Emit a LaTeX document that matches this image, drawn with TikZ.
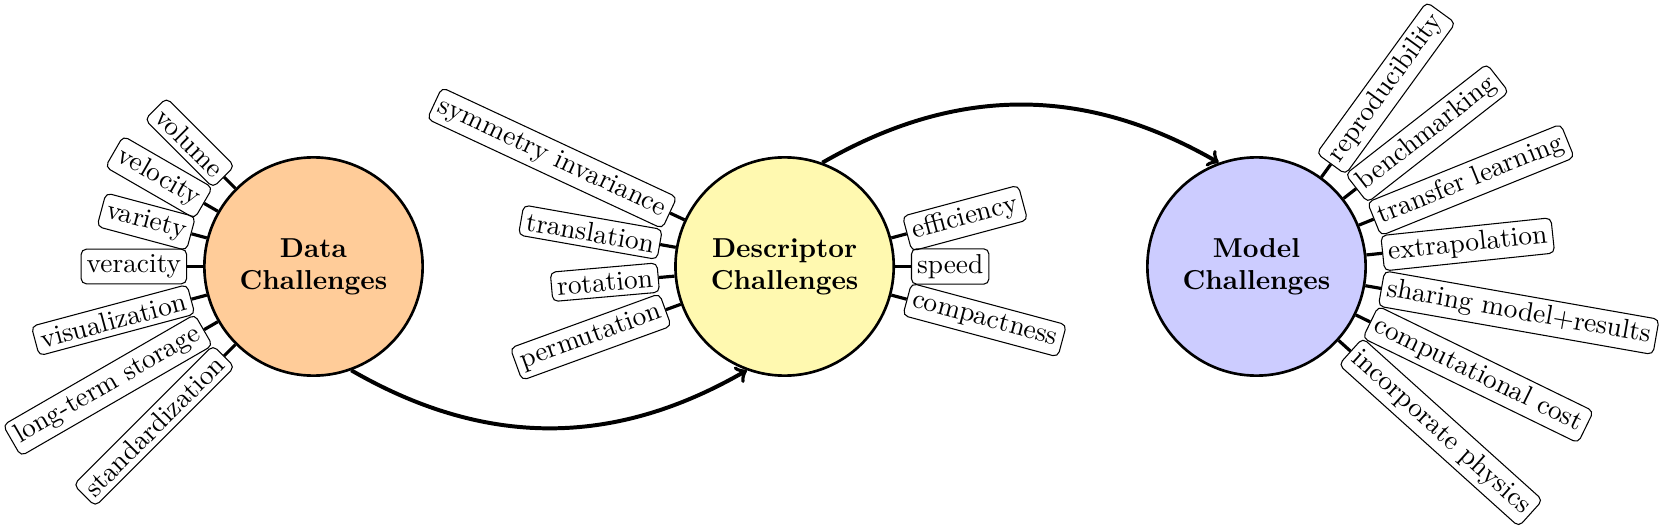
\documentclass[tikz,border=0pt]{standalone}
\definecolor{datafill}{RGB}{255,204,153}
\definecolor{descfill}{RGB}{255,249,176}
\definecolor{modelfill}{RGB}{204,204,255}
\begin{document}
\begin{tikzpicture}[x=0.37793pt, y=0.37793pt,
  hub/.style={circle, draw, line width=1pt, minimum size=82.5pt, inner sep=0pt, align=center, font=\fontsize{10.35}{12.2}\selectfont\bfseries},
  spoke/.style={line width=1.2pt},
  lbl/.style={draw, line width=0.4pt, rounded corners=2pt, inner sep=2.1pt, font=\fontsize{10.35}{12.2}\selectfont},
  arr/.style={->, line width=1.5pt}]
\useasboundingbox (0,0) rectangle (1663,-528);
\node[hub, fill=datafill] (data) at (313.5,-266.5) {Data\\Challenges};
\node[hub, fill=descfill] (desc) at (784.6,-266.5) {Descriptor\\Challenges};
\node[hub, fill=modelfill] (model) at (1256.5,-266.5) {Model\\Challenges};
% data labels (left side)
\foreach \a/\t [count=\i] in {135/volume, 150/velocity, 165/variety, 180/veracity, 195/visualization, 210/long-term storage, 225/standardization}{
  \draw[spoke] (data.\a) -- ++(\a:6pt) node[lbl, anchor=east, rotate=\a-180] (d\i) {\t};
}
% descriptor labels (left side)
\foreach \a/\t [count=\i] in {155/symmetry invariance, 170/translation, 185/rotation, 200/permutation}{
  \draw[spoke] (desc.\a) -- ++(\a:6pt) node[lbl, anchor=east, rotate=\a-180] (dl\i) {\t};
}
% descriptor labels (right side)
\foreach \a/\t [count=\i] in {15/efficiency, 0/speed, -15/compactness}{
  \draw[spoke] (desc.\a) -- ++(\a:6pt) node[lbl, anchor=west, rotate=\a] (dr\i) {\t};
}
% model labels (right side)
\foreach \a/\t [count=\i] in {54/reproducibility, 38/benchmarking, 22/transfer learning, 6/extrapolation, -10/sharing model+results, -26/computational cost, -42/incorporate physics}{
  \draw[spoke] (model.\a) -- ++(\a:6pt) node[lbl, anchor=west, rotate=\a] (m\i) {\t};
}
\draw[arr] (data.-70) to[bend right=30] (desc.-110);
\draw[arr] (desc.70) to[bend left=30] (model.110);
\end{tikzpicture}
\end{document}
